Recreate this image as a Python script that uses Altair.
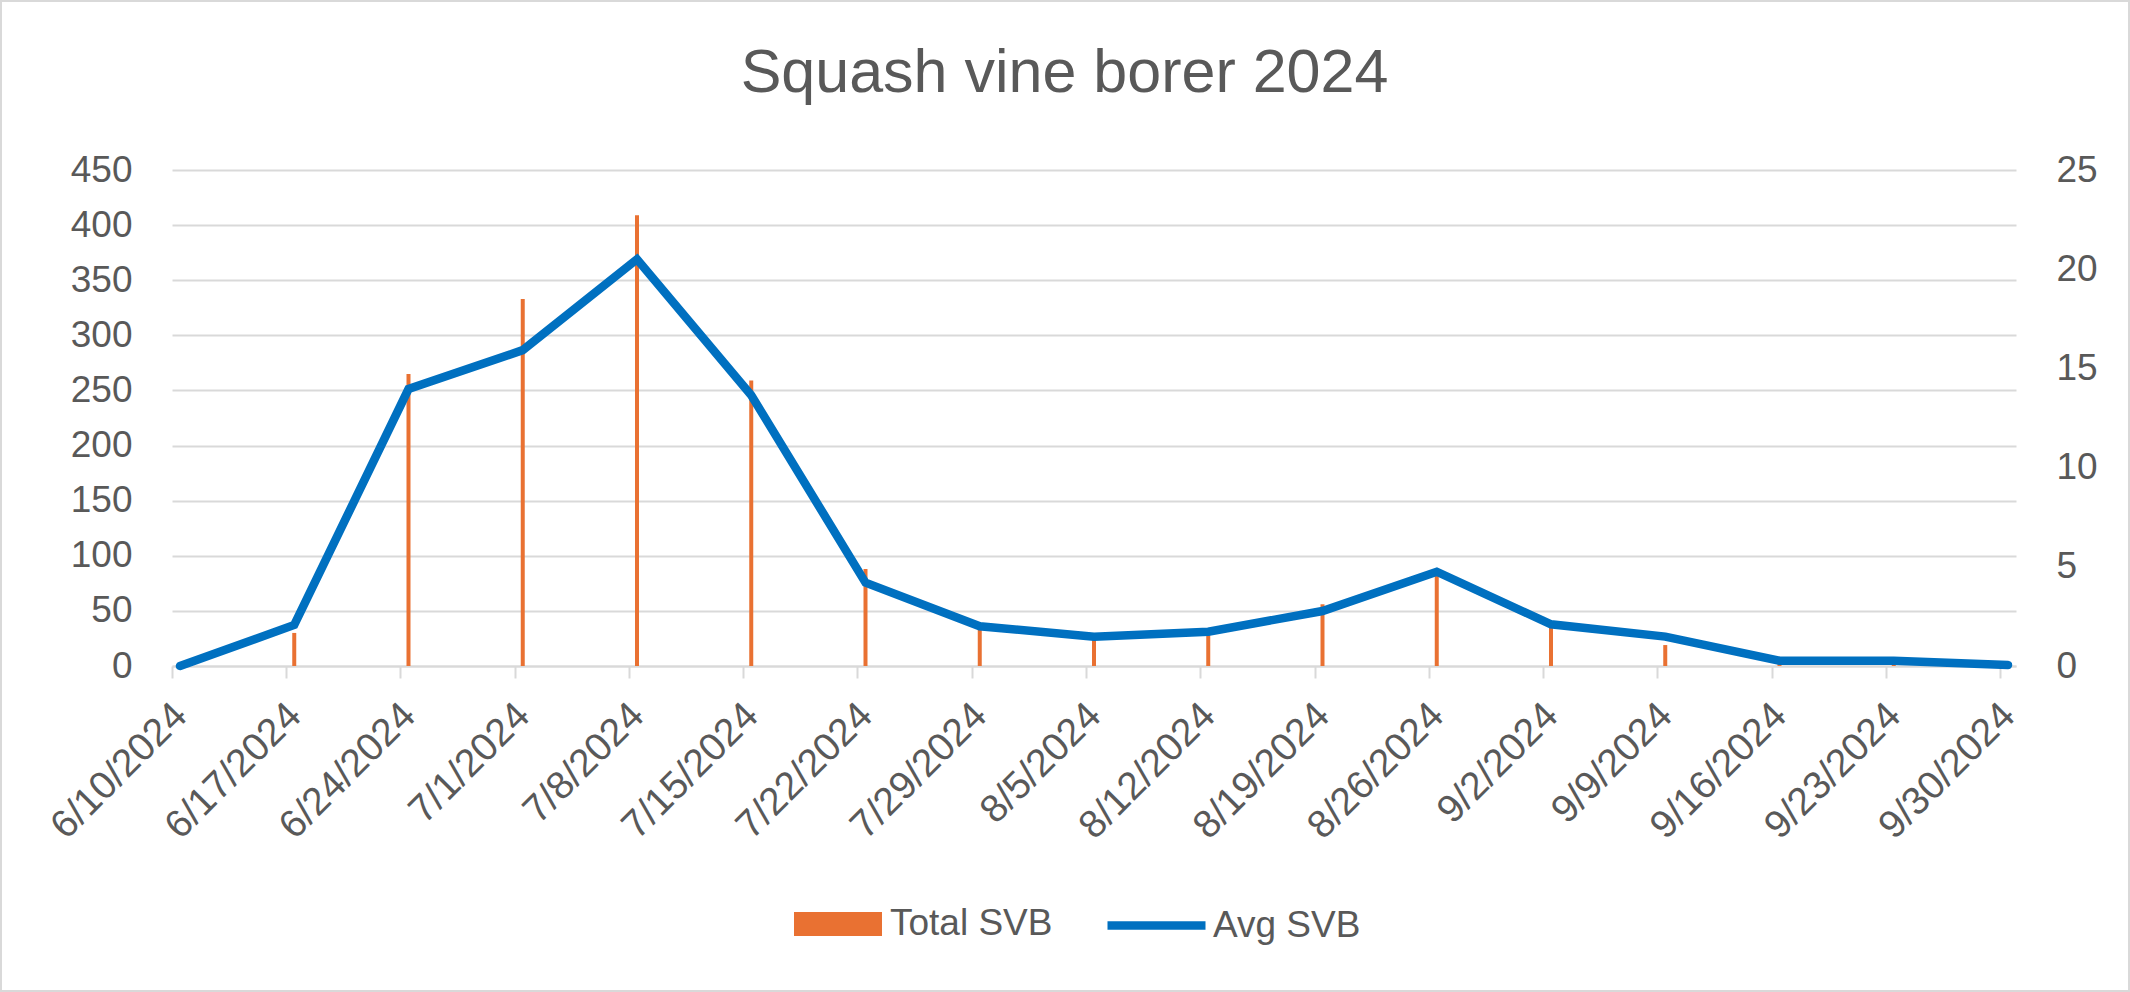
import altair as alt
import pandas as pd

# ---- data ----
dates = ["6/10/2024", "6/17/2024", "6/24/2024", "7/1/2024", "7/8/2024", "7/15/2024",
         "7/22/2024", "7/29/2024", "8/5/2024", "8/12/2024", "8/19/2024", "8/26/2024",
         "9/2/2024", "9/9/2024", "9/16/2024", "9/23/2024", "9/30/2024"]
total_svb = [0, 30, 265, 333, 409, 259, 88, 35, 26, 31, 56, 85, 37, 19, 5, 5, 1]
avg_svb = [0, 2.07, 13.96, 15.92, 20.5, 13.65, 4.2, 2.0, 1.48, 1.73, 2.77, 4.75, 2.1, 1.48, 0.27, 0.27, 0.05]
left_ticks = [0, 50, 100, 150, 200, 250, 300, 350, 400, 450]
right_ticks = [0, 5, 10, 15, 20, 25]

df = pd.DataFrame({"date": dates, "total": total_svb, "avg": avg_svb})

FONT = "Liberation Sans"
TEXT = "#595959"
GRID = "#D9D9D9"
ORANGE = "#E97132"
BLUE = "#0070C0"

W, H = 1844, 496
PL, PT, PR, PB = 172, 170, 114, 326

x_enc = alt.X(
    "date:N", sort=dates, title=None,
    scale=alt.Scale(type="point", padding=0.07),
    axis=alt.Axis(
        labelAngle=-45, labelAlign="right", labelBaseline="middle",
        labelFont=FONT, labelFontSize=39, labelColor=TEXT, labelPadding=31,
        tickSize=12, tickWidth=2, tickColor=GRID, tickOffset=-8, labelOffset=8,
        domainColor=GRID, domainWidth=2, grid=False,
    ),
)

border = alt.Chart(alt.Data(values=[{"a": 1}])).mark_rect(
    fill="white", fillOpacity=0, stroke=GRID, strokeWidth=2
).encode(
    x=alt.value(-PL + 1), x2=alt.value(W + PR - 1),
    y=alt.value(-PT + 1), y2=alt.value(H + PB - 1),
)

bars = alt.Chart(df).transform_calculate(series_bar="'Total SVB'").mark_bar(size=4).encode(
    x=x_enc,
    y=alt.Y(
        "total:Q", title=None,
        scale=alt.Scale(domain=[0, 450], nice=False),
        axis=alt.Axis(
            orient="left", values=left_ticks, grid=True, gridColor=GRID, gridWidth=2,
            domain=False, ticks=False, labelPadding=40,
            labelFont=FONT, labelFontSize=37, labelColor=TEXT,
        ),
    ),
    color=alt.Color(
        "series_bar:N",
        scale=alt.Scale(domain=["Total SVB"], range=[ORANGE]),
        legend=alt.Legend(
            orient="none", legendX=622, legendY=710, title=None, padding=0,
            symbolType="M-1,-0.27H1V0.27H-1Z", symbolSize=7744, symbolOpacity=1,
            symbolStrokeWidth=0, labelLimit=600,
            labelFont=FONT, labelFontSize=37, labelColor=TEXT, labelOffset=8,
        ),
    ),
)

line = alt.Chart(df).transform_calculate(series_line="'Avg SVB'").mark_line(
    strokeWidth=8.5, strokeCap="round", strokeJoin="miter"
).encode(
    x=x_enc,
    y=alt.Y(
        "avg:Q", title=None,
        scale=alt.Scale(domain=[0, 25], nice=False),
        axis=alt.Axis(
            orient="right", values=right_ticks, grid=False,
            domain=False, ticks=False, labelPadding=40,
            labelFont=FONT, labelFontSize=37, labelColor=TEXT,
        ),
    ),
    stroke=alt.Stroke(
        "series_line:N",
        scale=alt.Scale(domain=["Avg SVB"], range=[BLUE]),
        legend=alt.Legend(
            orient="none", legendX=931, legendY=702, title=None, padding=0,
            symbolType="stroke", symbolSize=9604, symbolStrokeWidth=8.5,
            labelLimit=600,
            labelFont=FONT, labelFontSize=37, labelColor=TEXT, labelOffset=3,
        ),
    ),
)

chart = alt.layer(border, bars, line).resolve_scale(
    y="independent"
).properties(
    width=W, height=H,
    title=alt.TitleParams(
        "Squash vine borer 2024", font=FONT, fontSize=61, fontWeight="normal",
        color=TEXT, anchor="middle", frame="group", dx=-29.5, offset=-153,
        baseline="alphabetic",
    ),
    autosize=alt.AutoSizeParams(type="none"),
    padding={"left": PL, "top": PT, "right": PR, "bottom": PB},
    background="white",
).configure_view(strokeWidth=0)

chart.save("out.html", embed_options={"renderer": "svg", "actions": False})
